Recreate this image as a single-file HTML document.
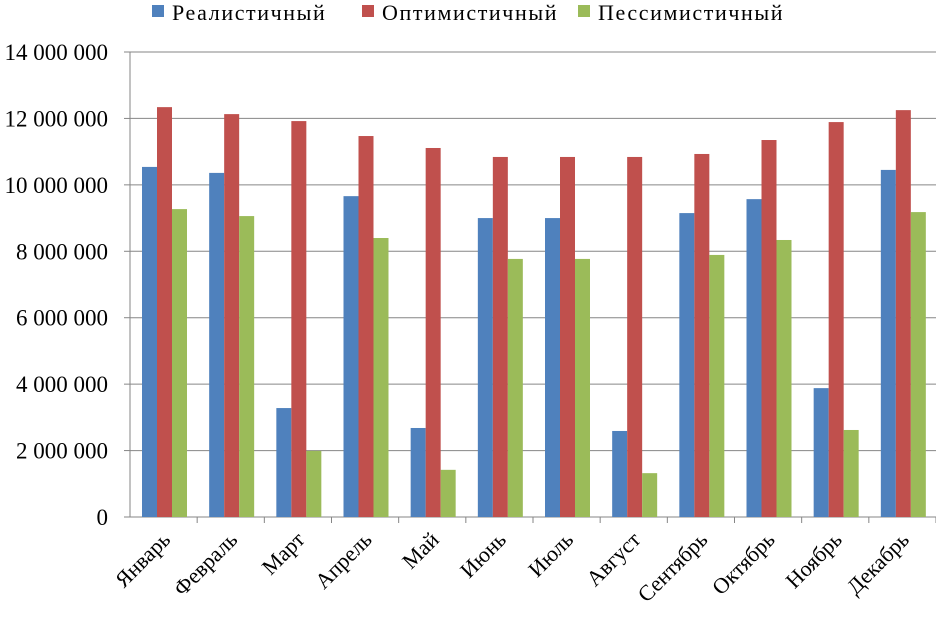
<!DOCTYPE html>
<html><head><meta charset="utf-8"><style>
body{margin:0;background:#fff;}
svg text{font-family:"Liberation Serif",serif;fill:#000;}
</style></head><body>
<svg id="chart" width="936" height="616"></svg>
<script>
const categories=["Январь","Февраль","Март","Апрель","Май","Июнь","Июль","Август","Сентябрь","Октябрь","Ноябрь","Декабрь"];
const realistic=[10540000,10360000,3280000,9660000,2680000,9000000,9000000,2590000,9150000,9570000,3880000,10450000];
const optimistic=[12340000,12130000,11920000,11470000,11110000,10840000,10840000,10840000,10930000,11350000,11890000,12250000];
const pessimistic=[9270000,9060000,1990000,8400000,1420000,7770000,7770000,1320000,7890000,8340000,2620000,9180000];
const seriesNames=["Реалистичный","Оптимистичный","Пессимистичный"];
const yTicks=[0,2000000,4000000,6000000,8000000,10000000,12000000,14000000];
const yTickLabels=["0","2 000 000","4 000 000","6 000 000","8 000 000","10 000 000","12 000 000","14 000 000"];
const colors=["#4F81BD","#C0504D","#9BBB59"];
const svg=document.getElementById('chart');
const NS="http://www.w3.org/2000/svg";
const x0=130,x1=936,y0=517,yTop=52,yMax=14000000;
const catW=(x1-x0)/categories.length;
function y(v){return y0-(v/yMax)*(y0-yTop);}
function cx(i){return x0+i*catW;}
function mk(t,a){const e=document.createElementNS(NS,t);for(const k in a)e.setAttribute(k,a[k]);svg.appendChild(e);return e;}
yTicks.forEach((v,i)=>{
  const l=mk('line',{x1:x0,x2:x1,y1:y(v),y2:y(v),stroke:'#868686','stroke-width':1});
  
  
  const tk=mk('line',{x1:x0-6,x2:x0,y1:y(v),y2:y(v),stroke:'#868686'});
  
  
  const t=mk('text',{x:x0-22,y:y(v)+8,'text-anchor':'end','font-size':23});
  t.textContent=yTickLabels[i];
  
  
});
const ax=mk('line',{x1:x0,x2:x0,y1:yTop,y2:y0,stroke:'#868686'});


const series=[realistic,optimistic,pessimistic];
const bw=15;
categories.forEach((c,i)=>{
  const tk=mk('line',{x1:cx(i+1),x2:cx(i+1),y1:y0,y2:y0+6,stroke:'#868686'});
  
  
  series.forEach((s,j)=>{
    const r=mk('rect',{x:cx(i)+12+j*bw,y:y(s[i]),width:bw,height:y0-y(s[i]),fill:colors[j]});
    
    
  });
  const tx=cx(i)+catW/2+8, ty=y0+24;
  const t=mk('text',{x:tx,y:ty,'text-anchor':'end','font-size':22,transform:`rotate(-45 ${tx} ${ty})`});
  t.textContent=c;
  
  
});
const lx=[152,362,578];
seriesNames.forEach((n,j)=>{
  const r=mk('rect',{x:lx[j],y:5,width:12,height:12,fill:colors[j]});
  
  
  const t=mk('text',{x:lx[j]+20,y:20,'font-size':22,'letter-spacing':1.6});
  t.textContent=n;
  
  
});
</script>
</body></html>
